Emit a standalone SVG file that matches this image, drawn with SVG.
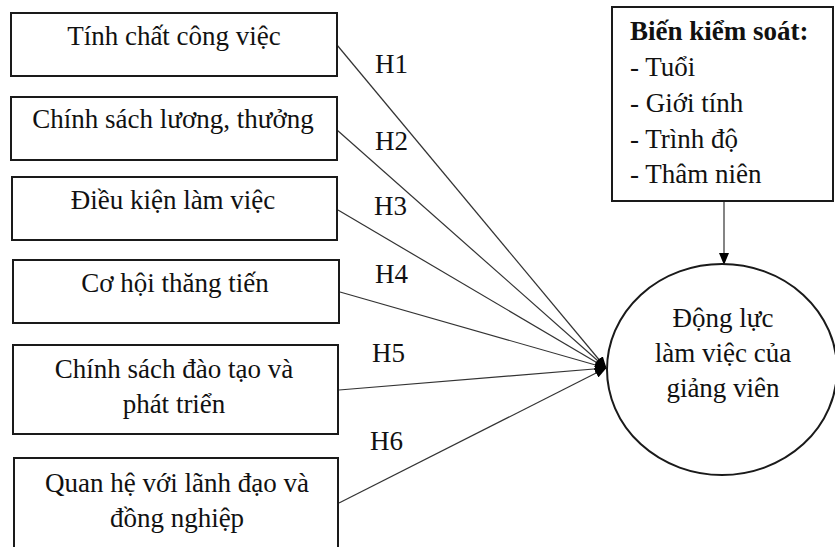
<svg xmlns="http://www.w3.org/2000/svg" width="835" height="547" viewBox="0 0 835 547">
<style>
.box{fill:#fff;stroke:#1a1a1a;stroke-width:2}
.t{font-family:"Liberation Serif","Times New Roman",serif;font-size:27px;fill:#111}
.c{text-anchor:middle}
.b{font-weight:bold}
.edge{stroke:#333;stroke-width:1.2;fill:none}
</style>
<defs>
<marker id="ah" markerWidth="12" markerHeight="10" refX="11" refY="5" orient="auto" markerUnits="userSpaceOnUse">
<path d="M0,0 L12,5 L0,10 Z" fill="#000"/>
</marker>
</defs>
<rect width="835" height="547" fill="#fff"/>
<g id="connectors">
<line class="edge" x1="337" y1="45" x2="606" y2="368" marker-end="url(#ah)"/>
<line class="edge" x1="337" y1="130" x2="606" y2="368" marker-end="url(#ah)"/>
<line class="edge" x1="338" y1="210" x2="606" y2="368" marker-end="url(#ah)"/>
<line class="edge" x1="340" y1="292" x2="606" y2="368" marker-end="url(#ah)"/>
<line class="edge" x1="339" y1="390" x2="606" y2="368" marker-end="url(#ah)"/>
<line class="edge" x1="339" y1="503" x2="606" y2="368" marker-end="url(#ah)"/>
<line class="edge" x1="724" y1="201" x2="724" y2="264" marker-end="url(#ah)"/>
<text class="t" x="375" y="73">H1</text>
<text class="t" x="375" y="150">H2</text>
<text class="t" x="374" y="215">H3</text>
<text class="t" x="375" y="283">H4</text>
<text class="t" x="372" y="362">H5</text>
<text class="t" x="370" y="450">H6</text>
</g>
<g id="n1">
<rect class="box" x="11" y="13" width="326" height="63"/>
<text class="t c" x="174" y="45">Tính chất công việc</text>
</g>
<g id="n2">
<rect class="box" x="11" y="97" width="326" height="63"/>
<text class="t c" x="173" y="128">Chính sách lương, thưởng</text>
</g>
<g id="n3">
<rect class="box" x="12" y="177" width="325" height="63"/>
<text class="t c" x="173" y="209">Điều kiện làm việc</text>
</g>
<g id="n4">
<rect class="box" x="13" y="260" width="326" height="63"/>
<text class="t c" x="175" y="292">Cơ hội thăng tiến</text>
</g>
<g id="n5">
<rect class="box" x="13" y="345" width="325" height="89"/>
<text class="t c" x="174" y="378">Chính sách đào tạo và</text>
<text class="t c" x="174" y="413">phát triển</text>
</g>
<g id="n6">
<rect class="box" x="14" y="458" width="324" height="110"/>
<text class="t c" x="177" y="492">Quan hệ với lãnh đạo và</text>
<text class="t c" x="177" y="527">đồng nghiệp</text>
</g>
<g id="control">
<rect class="box" x="612" y="7" width="221" height="194"/>
<text class="t b" x="630" y="40">Biến kiểm soát:</text>
<text class="t" x="630" y="76">- Tuổi</text>
<text class="t" x="630" y="112">- Giới tính</text>
<text class="t" x="630" y="148">- Trình độ</text>
<text class="t" x="630" y="183">- Thâm niên</text>
</g>
<g id="outcome">
<ellipse class="box" cx="722" cy="369.5" rx="115" ry="105.5"/>
<text class="t c" x="723" y="327">Động lực</text>
<text class="t c" x="723" y="362">làm việc của</text>
<text class="t c" x="723" y="397">giảng viên</text>
</g>
</svg>
